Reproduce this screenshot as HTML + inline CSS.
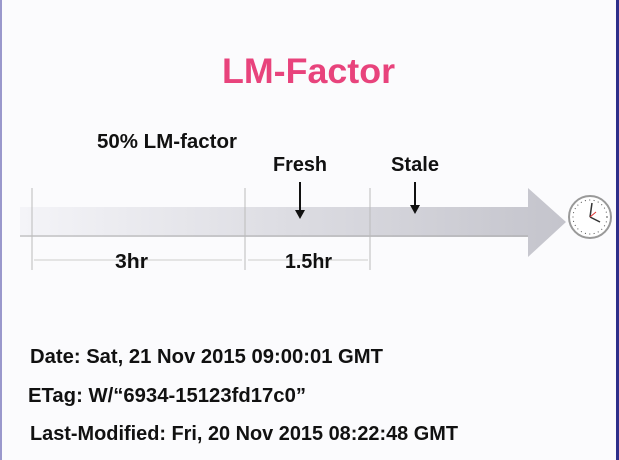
<!DOCTYPE html>
<html><head><meta charset="utf-8"><style>
body{margin:0;width:619px;height:460px;overflow:hidden;background:#fbfbfd;font-family:"Liberation Sans",sans-serif}
</style></head><body>
<svg width="619" height="460" style="position:absolute;left:0;top:0">
<defs><linearGradient id="g" x1="0" x2="1"><stop offset="0" stop-color="#f4f4f8"/><stop offset="1" stop-color="#c4c4cc"/></linearGradient></defs>
<rect x="0" y="0" width="2" height="460" fill="#9a98cc"/>
<rect x="616" y="0" width="3" height="460" fill="#2e2e8a"/>
<text x="222" y="83" textLength="173" lengthAdjust="spacingAndGlyphs" font-size="35" font-weight="bold" fill="#e8437c">LM-Factor</text>
<text x="97" y="148" textLength="140" lengthAdjust="spacingAndGlyphs" font-size="20" font-weight="bold" fill="#111">50% LM-factor</text>
<path d="M20 207 H528 V188 L566 222 L528 257 V237 H20 Z" fill="url(#g)"/>
<line x1="20" y1="236" x2="528" y2="236" stroke="#aaa" stroke-width="1"/>
<g stroke="#bbb" stroke-width="1">
<line x1="32" y1="188" x2="32" y2="270"/><line x1="245" y1="188" x2="245" y2="270"/><line x1="370" y1="188" x2="370" y2="270"/>
<line x1="34" y1="260" x2="242" y2="260" stroke="#ccc"/><line x1="248" y1="260" x2="368" y2="260" stroke="#ccc"/>
</g>
<text x="115" y="268" textLength="33" lengthAdjust="spacingAndGlyphs" font-size="20" font-weight="bold" fill="#111">3hr</text>
<text x="285" y="268" textLength="47" lengthAdjust="spacingAndGlyphs" font-size="20" font-weight="bold" fill="#111">1.5hr</text>
<text x="273" y="171" textLength="54" lengthAdjust="spacingAndGlyphs" font-size="20" font-weight="bold" fill="#111">Fresh</text>
<text x="391" y="171" textLength="48" lengthAdjust="spacingAndGlyphs" font-size="20" font-weight="bold" fill="#111">Stale</text>
<g><line x1="300" y1="182" x2="300" y2="212" stroke="#111" stroke-width="2"/><path d="M295 210 L305 210 L300 219Z" fill="#111"/></g>
<g><line x1="415" y1="182" x2="415" y2="207" stroke="#111" stroke-width="2"/><path d="M410 205 L420 205 L415 214Z" fill="#111"/></g>
<g>
<circle cx="590" cy="217" r="21" fill="#fff" stroke="#999" stroke-width="2"/>
<circle cx="590" cy="217" r="17" fill="none" stroke="#555" stroke-width="1" stroke-dasharray="1 3.4"/>
<line x1="590" y1="217" x2="592" y2="203" stroke="#333" stroke-width="1.5"/>
<line x1="590" y1="217" x2="600" y2="222" stroke="#333" stroke-width="1.5"/>
<line x1="590" y1="217" x2="596" y2="212" stroke="#d33" stroke-width="1"/>
</g>
<g font-size="20" font-weight="bold" fill="#111">
<text x="30" y="363" textLength="353" lengthAdjust="spacingAndGlyphs">Date: Sat, 21 Nov 2015 09:00:01 GMT</text>
<text x="28" y="402" textLength="278" lengthAdjust="spacingAndGlyphs">ETag: W/“6934-15123fd17c0”</text>
<text x="30" y="440" textLength="428" lengthAdjust="spacingAndGlyphs">Last-Modified: Fri, 20 Nov 2015 08:22:48 GMT</text>
</g>
</svg>
</body></html>
